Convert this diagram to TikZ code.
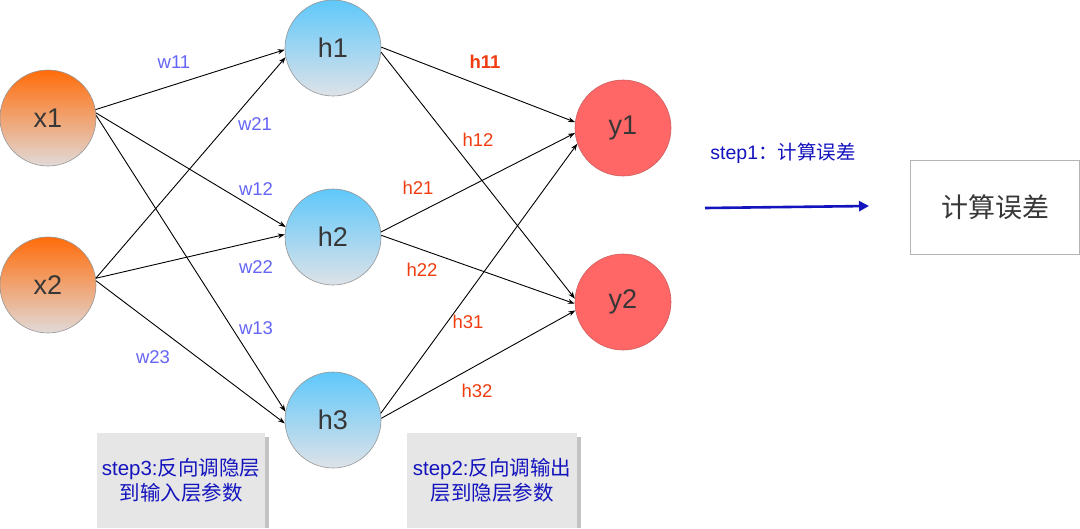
\documentclass[tikz,border=0pt]{standalone}
\usepackage{fontspec}
\setmainfont{Liberation Sans}
\newfontfamily\cjk{Noto Sans CJK SC}
\usetikzlibrary{arrows.meta}
\definecolor{wcol}{RGB}{100,100,245}
\definecolor{hcol}{RGB}{240,60,15}
\definecolor{stepcol}{RGB}{20,20,190}
\definecolor{txtcol}{RGB}{55,55,55}
\definecolor{orangetop}{RGB}{255,108,10}
\definecolor{orangebot}{RGB}{225,218,216}
\definecolor{bluetop}{RGB}{95,200,250}
\definecolor{bluebot}{RGB}{222,226,232}
\definecolor{redfill}{RGB}{255,102,102}
\definecolor{boxgray}{RGB}{230,230,230}
\definecolor{shadowgray}{RGB}{195,195,195}
\tikzset{
  neuron/.style={circle, minimum size=96pt, inner sep=0pt, draw={rgb,255:red,150;green,150;blue,150}, line width=0.6pt,
    font=\fontsize{27}{30}\selectfont, text=txtcol},
  inp/.style={neuron, top color=orangetop, bottom color=orangebot},
  hid/.style={neuron, top color=bluetop, bottom color=bluebot},
  outn/.style={neuron, fill=redfill, draw={rgb,255:red,205;green,95;blue,95}},
  edge/.style={draw=black, line width=0.9pt, -{Stealth[length=7pt,width=5pt]}},
  wlab/.style={text=wcol, font=\fontsize{18.5}{22}\selectfont, inner sep=0pt},
  hlab/.style={text=hcol, font=\fontsize{18.5}{22}\selectfont, inner sep=0pt},
  graybox/.style={fill=boxgray, draw=none, text=stepcol, align=center, font=\fontsize{20.5}{24.5}\selectfont},
}
\begin{document}
\begin{tikzpicture}[x=1pt,y=-1pt]
\useasboundingbox[fill=white] (0,0) rectangle (1080,528);

% neurons
\node[inp] (x1) at (48,118) {x1};
\node[inp] (x2) at (48,285) {x2};
\node[hid] (h1) at (333,48) {h1};
\node[hid] (h2) at (333,237) {h2};
\node[hid] (h3) at (333,420) {h3};
\node[outn] (y1) at (623,128) {y1};
\node[outn] (y2) at (623,302) {y2};

% input -> hidden
\draw[edge] (x1.10) -- (h1.182);
\draw[edge] (x1.6) -- (h2.168);
\draw[edge] (x1.3) -- (h3.170);
\draw[edge] (x2.8) -- (h1.191);
\draw[edge] (x2.8) -- (h2.177);
\draw[edge] (x2.5) -- (h3.184);

% hidden -> output
\draw[edge] (h1.1) -- (y1.173);
\draw[edge] (h1.355) -- (y2.176);
\draw[edge] (h2.6) -- (y1.186);
\draw[edge] (h2.2) -- (y2.182);
\draw[edge] (h3.8) -- (y1.199);
\draw[edge] (h3.2) -- (y2.190);

% weight labels
\node[wlab] (lw11) at (174,62) {w11};
\node[wlab] (lw21) at (255,124) {w21};
\node[wlab] (lw12) at (256,189) {w12};
\node[wlab] (lw22) at (256,267) {w22};
\node[wlab] (lw13) at (256,328) {w13};
\node[wlab] (lw23) at (153,357) {w23};

\node[hlab, font=\fontsize{18.5}{22}\selectfont\bfseries] (lh11) at (485,62) {h11};
\node[hlab] (lh12) at (478,140) {h12};
\node[hlab] (lh21) at (418,188) {h21};
\node[hlab] (lh22) at (422,270) {h22};
\node[hlab] (lh31) at (468,322) {h31};
\node[hlab] (lh32) at (477,391) {h32};

% step1
\node[text=stepcol, font=\fontsize{19.5}{23}\selectfont, inner sep=0pt] (s1) at (783,153) {step1{\cjk ：计算误差}};
\coordinate (a0) at (705,208);
\coordinate (a1) at (869,206);
\draw[draw=stepcol, line width=2.6pt, -{Triangle[length=10pt,width=10pt]}] (a0) -- (a1);

\node[draw={rgb,255:red,180;green,180;blue,180}, line width=0.8pt, fill=white, minimum width=169pt, minimum height=94pt, inner sep=0pt,
  text=txtcol, font=\fontsize{27}{31}\selectfont\cjk] (err) at (995,207) {计算误差};

% gray step boxes
\fill[shadowgray] (101,437) rectangle (269,528);
\node[graybox, minimum width=168pt, minimum height=95pt, inner sep=0pt] (s3) at (181,480.5)
  {step3:{\cjk 反向调隐层}\\{\cjk 到输入层参数}};
\fill[shadowgray] (411,437) rectangle (581,528);
\node[graybox, minimum width=170pt, minimum height=95pt, inner sep=0pt] (s2) at (492,480.5)
  {step2:{\cjk 反向调输出}\\{\cjk 层到隐层参数}};
\end{tikzpicture}
\end{document}
